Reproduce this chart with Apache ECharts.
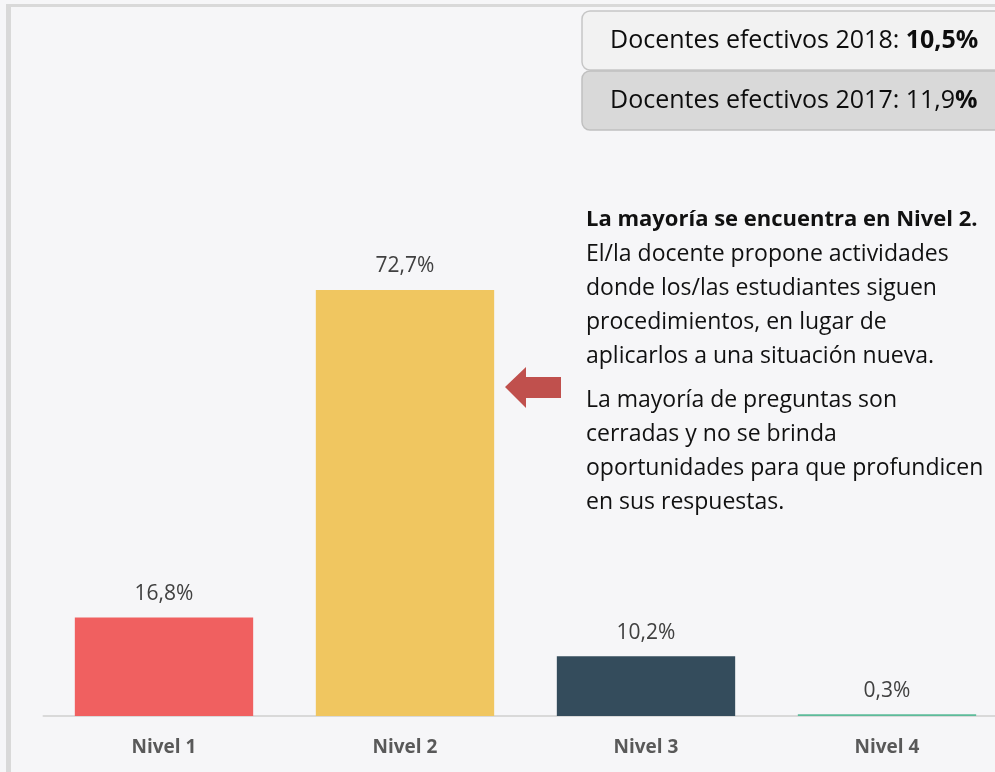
<!DOCTYPE html>
<html>
<head>
<meta charset="utf-8">
<script src="https://cdn.jsdelivr.net/npm/echarts@6/dist/echarts.min.js"></script>
<style>
  html, body { margin: 0; padding: 0; background: #f6f6f8; }
  #chart { width: 995px; height: 772px; }
</style>
</head>
<body>
<div id="chart"></div>
<script>
// datos
const categorias = ['Nivel 1', 'Nivel 2', 'Nivel 3', 'Nivel 4'];
const porcentajes = [16.8, 72.7, 10.2, 0.3];
const colores = ['#f06060', '#f0c660', '#344c5c', '#5dbb9a'];
const docentes2018 = '10,5%';
const docentes2017 = '11,9';

const FONT = 'Open Sans';
const chart = echarts.init(document.getElementById('chart'));

const option = {
  backgroundColor: '#f6f6f8',
  animation: false,
  grid: { left: 43.5, width: 964, top: 130, bottom: 56, outerBoundsMode: 'none' },
  xAxis: {
    type: 'category',
    data: categorias,
    axisTick: { show: false },
    axisLine: { lineStyle: { color: '#d9d9d9', width: 2 } },
    axisLabel: { color: '#595959', fontFamily: FONT, fontWeight: 'bold', fontSize: 19, margin: 22 }
  },
  yAxis: { type: 'value', min: 0, max: 100, show: false, splitLine: { show: false } },
  series: [{
    type: 'bar',
    barCategoryGap: '26%',
    data: porcentajes.map((v, i) => ({ value: v, itemStyle: { color: colores[i] } })),
    label: {
      show: true,
      position: 'top',
      distance: 13,
      color: '#404040',
      fontFamily: FONT,
      fontSize: 21,
      formatter: p => p.value.toFixed(1).replace('.', ',') + '%'
    }
  }],
  graphic: [
    // marco
    { type: 'rect', shape: { x: 6, y: 4, width: 5, height: 768 }, style: { fill: '#d9d9d9' }, silent: true },
    { type: 'rect', shape: { x: 6, y: 4, width: 989, height: 3 }, style: { fill: '#d9d9d9' }, silent: true },
    // cajas
    { type: 'rect', shape: { x: 582, y: 11, width: 430, height: 59, r: 8 },
      style: { fill: '#f2f2f2', stroke: '#c6c6c6', lineWidth: 1.5 } },
    { type: 'rect', shape: { x: 582, y: 71, width: 430, height: 59, r: 8 },
      style: { fill: '#d9d9d9', stroke: '#c0c0c0', lineWidth: 1.5 } },
    { type: 'text',
      style: { x: 610, y: 41, verticalAlign: 'middle',
        text: '{n|Docentes efectivos 2018: }{b|' + docentes2018 + '}',
        rich: { n: { fontFamily: FONT, fontSize: 25, fill: '#0d0d0d' },
                b: { fontFamily: FONT, fontSize: 25, fontWeight: 'bold', fill: '#0d0d0d' } } } },
    { type: 'text',
      style: { x: 610, y: 101, verticalAlign: 'middle',
        text: '{n|Docentes efectivos 2017: ' + docentes2017 + '}{b|%}',
        rich: { n: { fontFamily: FONT, fontSize: 25, fill: '#0d0d0d' },
                b: { fontFamily: FONT, fontSize: 25, fontWeight: 'bold', fill: '#0d0d0d' } } } },
    // flecha
    { type: 'polygon',
      shape: { points: [[505, 387], [526, 367], [526, 377], [561, 377], [561, 398], [526, 398], [526, 408]] },
      style: { fill: '#c0504d' } },
    // texto explicativo
    { type: 'text', left: 586, top: 209,
      style: { text: '{b|La mayoría se encuentra en Nivel 2.}\n{n|El/la docente propone actividades}\n{n|donde los/las estudiantes siguen}\n{n|procedimientos, en lugar de}\n{n|aplicarlos a una situación nueva.}',
        rich: { b: { fontFamily: FONT, fontSize: 22, fontWeight: 'bold', fill: '#111111', lineHeight: 34 },
                n: { fontFamily: FONT, fontSize: 23, fill: '#111111', lineHeight: 34 } } } },
    { type: 'text', left: 586, top: 383,
      style: { text: 'La mayoría de preguntas son\ncerradas y no se brinda\noportunidades para que profundicen\nen sus respuestas.',
        fontFamily: FONT, fontSize: 23, fill: '#111111', lineHeight: 34 } }
  ]
};
chart.setOption(option);
</script>
</body>
</html>
